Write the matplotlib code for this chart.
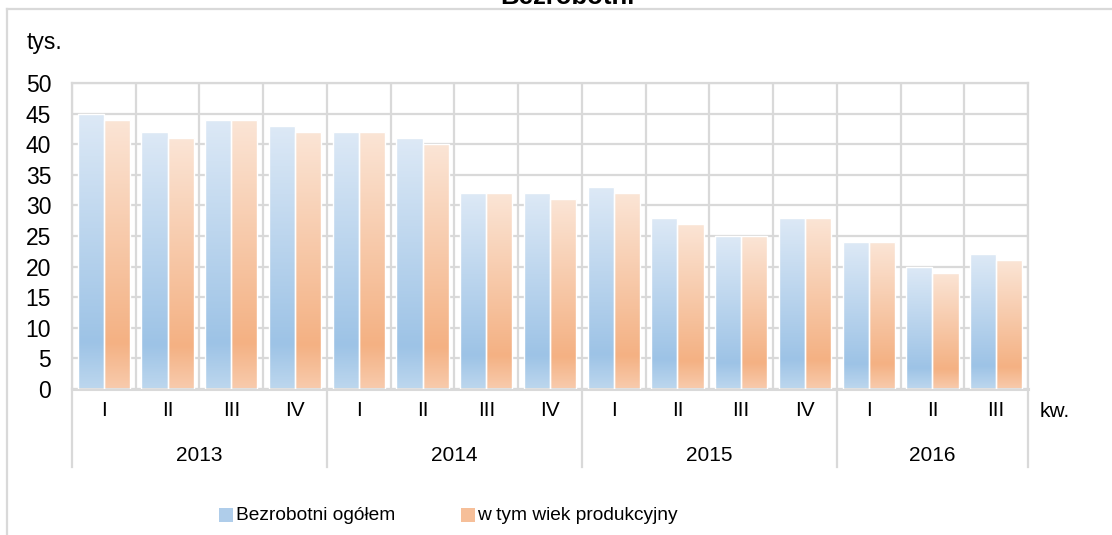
import numpy as np
import matplotlib
matplotlib.use("Agg")
import matplotlib.pyplot as plt
from matplotlib.colors import LinearSegmentedColormap
from matplotlib.patches import Rectangle
from matplotlib.lines import Line2D

plt.rcParams['font.family'] = ['Liberation Sans', 'DejaVu Sans']

# dane
years = ['2013', '2014', '2015', '2016']
quarters_per_year = [4, 4, 4, 3]
quarters = ['I', 'II', 'III', 'IV', 'I', 'II', 'III', 'IV', 'I', 'II', 'III', 'IV', 'I', 'II', 'III']
ogolem = [45, 42, 44, 43, 42, 41, 32, 32, 33, 28, 25, 28, 24, 20, 22]
produkcyjny = [44, 41, 44, 42, 42, 40, 32, 31, 32, 27, 25, 28, 24, 19, 21]

grid_c = '#d9d9d9'
blue_cm = LinearSegmentedColormap.from_list('b', [(0, '#bdd7ee'), (0.17, '#9dc3e6'), (1, '#dde9f6')])
orange_cm = LinearSegmentedColormap.from_list('o', [(0, '#f8cbad'), (0.17, '#f4b183'), (1, '#fbe5d6')])

W, H = 1112, 535
fig = plt.figure(figsize=(W / 100, H / 100), dpi=100)
ax = fig.add_axes([72 / W, 1 - 389 / H, (1028 - 72) / W, (389 - 83) / H])

x = np.arange(len(quarters))
bw = 0.41
grad = np.linspace(0, 1, 256).reshape(-1, 1)

def gradient_bars(xpos, vals, cmap):
    bars = ax.bar(xpos, vals, bw, facecolor='none', edgecolor='white', linewidth=1.0, zorder=3)
    for b in bars:
        x0, w, h = b.get_x(), b.get_width(), b.get_height()
        im = ax.imshow(grad, cmap=cmap, extent=[x0, x0 + w, 0, h], origin='lower',
                       aspect='auto', zorder=2, interpolation='bilinear')
        im.set_clip_path(b)
    return bars

gradient_bars(x - bw / 2, ogolem, blue_cm)
gradient_bars(x + bw / 2, produkcyjny, orange_cm)

ax.set_xlim(-0.5, len(quarters) - 0.5)
ax.set_ylim(0, 50)
ax.set_yticks(range(0, 51, 5))
ax.set_xticks(x)
ax.set_xticklabels(quarters, fontsize=15)
ax.tick_params(axis='x', length=0, pad=9)
ax.tick_params(axis='y', length=0, pad=15, labelsize=16.5)
ax.set_xticks(np.arange(len(quarters) + 1) - 0.5, minor=True)
ax.tick_params(axis='x', which='minor', length=0)
ax.grid(axis='y', color=grid_c, linewidth=1.6, zorder=1)
ax.grid(axis='x', which='minor', color=grid_c, linewidth=1.6, zorder=1)
ax.grid(axis='x', which='major', visible=False)
for s in ax.spines.values():
    s.set_color(grid_c)
    s.set_linewidth(1.6)
ax.spines['bottom'].set_linewidth(2.2)

# podział lat pod osią
trans = ax.get_xaxis_transform()
start = 0
bounds = [-0.5]
for yr, n in zip(years, quarters_per_year):
    ax.text(start + (n - 1) / 2, -0.216, yr, transform=trans, ha='center', va='center', fontsize=15)
    start += n
    bounds.append(start - 0.5)
for b in bounds:
    ax.add_line(Line2D([b, b], [0, -0.255], transform=trans, color=grid_c, linewidth=1.6, clip_on=False))

ax.text(1.0125, -0.075, 'kw.', transform=ax.transAxes, ha='left', va='center', fontsize=15)
fig.text(27 / W, 1 - 43 / H, 'tys.', ha='left', va='center', fontsize=16.5)
fig.text(567 / W, 1 - 4 / H, 'Bezrobotni', ha='center', va='baseline', fontsize=18.5, fontweight='bold')

# legenda
fig.patches.append(Rectangle((219 / W, 1 - 522 / H), 14 / W, 14 / H, transform=fig.transFigure,
                             facecolor='#afcdea', edgecolor='none'))
fig.text(236 / W, 1 - 515 / H, 'Bezrobotni ogółem', ha='left', va='center', fontsize=13.8)
fig.patches.append(Rectangle((461 / W, 1 - 522 / H), 14 / W, 14 / H, transform=fig.transFigure,
                             facecolor='#f6bf99', edgecolor='none'))
fig.text(477 / W, 1 - 515 / H, 'w tym wiek produkcyjny', ha='left', va='center', fontsize=13.8)

# ramka wykresu
fig.add_artist(Line2D([7 / W, 7 / W], [-0.1, 1 - 9 / H], transform=fig.transFigure, color=grid_c, linewidth=1.6))
fig.add_artist(Line2D([7 / W, 1.1], [1 - 9 / H, 1 - 9 / H], transform=fig.transFigure, color=grid_c, linewidth=1.6))

fig.savefig('out.png', dpi=100)
